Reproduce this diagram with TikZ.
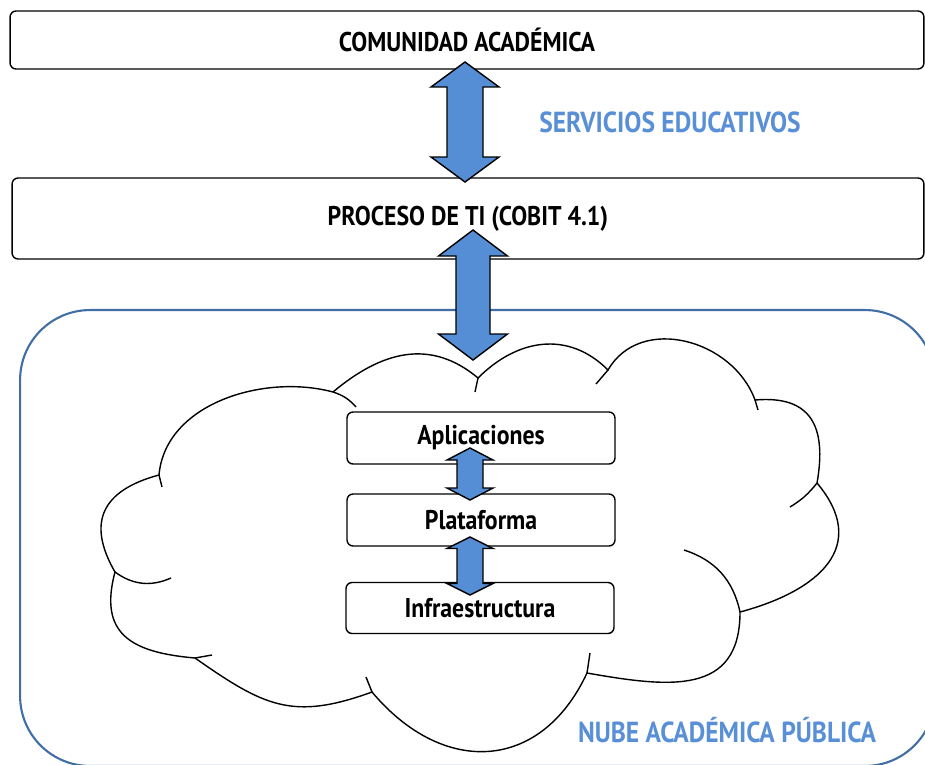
\documentclass[tikz,border=0pt]{standalone}
\usepackage{fontspec}
\setmainfont{PT Sans}[FakeStretch=0.88]
\usetikzlibrary{calc}
\definecolor{arrowblue}{RGB}{85,142,213}
\definecolor{labelblue}{RGB}{88,143,214}
\definecolor{frameblue}{RGB}{65,110,165}

\begin{document}
\begin{tikzpicture}[x=0.02cm, y=-0.02cm,
  layer/.style={rectangle, rounded corners=0.12cm, draw=black, line width=0.8pt, fill=white, text centered, font=\bfseries\fontsize{15.4}{17}\selectfont},
  inner/.style={layer, minimum width=5.36cm, minimum height=1.04cm, font=\bfseries\fontsize{15.4}{17}\selectfont},
  label/.style={text=labelblue, font=\bfseries\fontsize{16.5}{19}\selectfont},
  frame/.style={rectangle, rounded corners=1.4cm, draw=frameblue, line width=1.2pt},
  fatarrow/.style n args={3}{draw=black, line width=0.8pt, fill=arrowblue, line join=miter,
    to path={let \p1=(\tikztostart), \p2=(\tikztotarget) in
      -- ({\x1+#2},{\y1-#3}) -- ({\x1+#1},{\y1-#3}) -- ({\x1+#1},{\y2+#3}) -- ({\x1+#2},{\y2+#3})
      -- (\x1,\y2) -- ({\x1-#2},{\y2+#3}) -- ({\x1-#1},{\y2+#3}) -- ({\x1-#1},{\y1-#3})
      -- ({\x1-#2},{\y1-#3}) -- cycle}}
]
\useasboundingbox (0,0) rectangle (925,764);

% Upper layers
\node[layer, minimum width=18.28cm, minimum height=1.16cm] (comunidad) at (467,40) {COMUNIDAD ACADÉMICA};
\node[layer, minimum width=18.24cm, minimum height=1.62cm] (proceso) at (468,218.5) {PROCESO DE TI (COBIT 4.1)};
\node[label] (servicios) at (670,122) {SERVICIOS EDUCATIVOS};

% Public academic cloud
\node[frame, minimum width=18.3cm, minimum height=9.12cm] (nube) at (477.5,538) {};
\node[label] (nubelabel) at (727,730) {NUBE ACADÉMICA PÚBLICA};

% Cloud outline
\draw[fill=white, line width=0.8pt]
  (333,392) to[out=40,in=140,looseness=1.1] (478,378) to[out=45,in=135,looseness=1.1] (608,370)
  to[out=60,in=110,looseness=1.1] (755,400) to[out=5,in=80,looseness=1.4] (817,483)
  to[out=-50,in=15,looseness=1.4] (740,612) to[out=-90,in=-10,looseness=1.3] (587,673)
  to[out=-115,in=-50,looseness=1.3] (372,692) to[out=-160,in=-35,looseness=1.2] (195,658)
  to[out=175,in=-105,looseness=1.4] (115,572) to[out=120,in=-165,looseness=1.4] (159,475)
  to[out=85,in=165,looseness=0.95] cycle;
\draw[line width=0.8pt]
  (333,392) to[bend left=15] (356,407)
  (478,378) -- (475,392)
  (608,370) -- (596,384)
  (755,400) -- (758,410)
  (817,483) to[bend left=10] (790,507)
  (740,612) to[bend right=30] (684,550)
  (587,673) -- (590,653)
  (372,692) -- (366,677)
  (195,658) -- (212,655)
  (115,572) to[bend right=30] (171,578)
  (159,475) -- (162,487);

% Service layers
\node[inner] (aplicaciones) at (481,438) {Aplicaciones};
\node[inner] (plataforma) at (481,520) {Plataforma};
\node[inner, minimum height=1.02cm] (infraestructura) at (480,608) {Infraestructura};

% Arrows
\coordinate (a1top) at (465,62);
\coordinate (a1bot) at (465,182);
\coordinate (a2top) at (473,230);
\coordinate (a2bot) at (473,360);
\coordinate (a3top) at (470,448);
\coordinate (a3bot) at (470,500);
\coordinate (a4top) at (470,537);
\coordinate (a4bot) at (470,595);

\draw[fatarrow={0.36cm}{0.68cm}{0.50cm}] (a1top) to (a1bot);
\draw[fatarrow={0.34cm}{0.69cm}{0.52cm}] (a2top) to (a2bot);
\draw[fatarrow={0.26cm}{0.46cm}{0.24cm}] (a3top) to (a3bot);
\draw[fatarrow={0.26cm}{0.46cm}{0.23cm}] (a4top) to (a4bot);

\end{tikzpicture}
\end{document}
